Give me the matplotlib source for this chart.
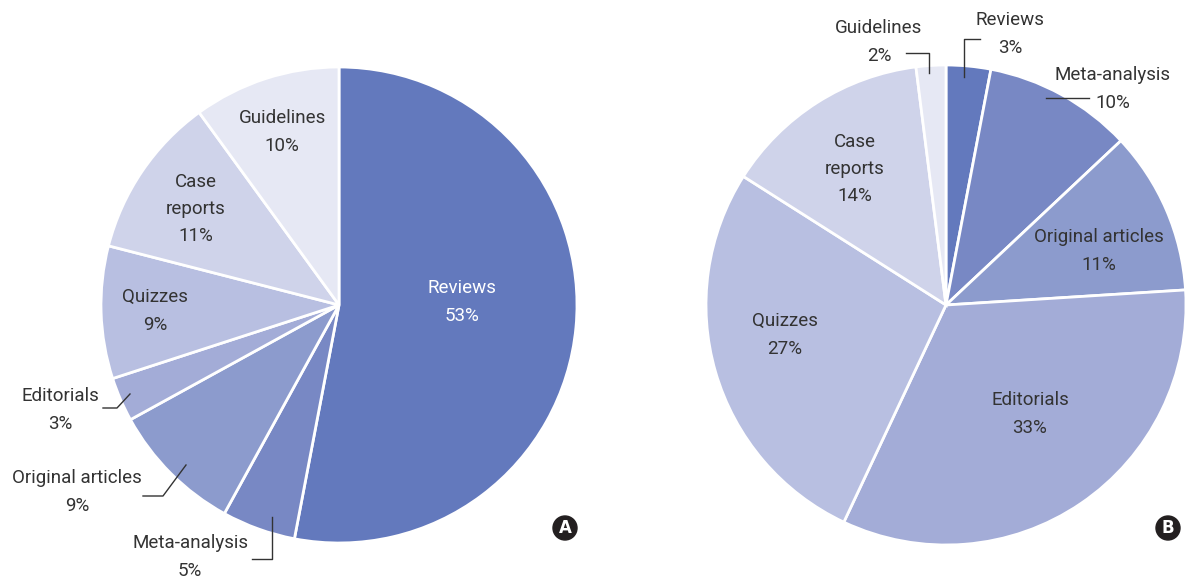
import matplotlib
matplotlib.use("Agg")
import matplotlib.pyplot as plt
from matplotlib.patches import Circle

plt.rcParams['font.family'] = ['Roboto', 'DejaVu Sans']

categories = ['Reviews', 'Meta-analysis', 'Original articles', 'Editorials',
              'Quizzes', 'Case reports', 'Guidelines']
share_a = [53, 5, 9, 3, 9, 11, 10]
share_b = [3, 10, 11, 33, 27, 14, 2]
colors = ['#6379bd', '#7888c4', '#8c9bcd', '#a3acd7', '#b8bfe1', '#cfd3ea', '#e6e8f4']

W, H = 1185, 579
fig = plt.figure(figsize=(W / 100, H / 100), dpi=100)
ax = fig.add_axes([0, 0, 1, 1])
ax.axis('off')


def py(y):
    # pixel row (from top) -> data y
    return H - y


TXT = '#333333'
FS = 13.5

# pie A
ax.pie(share_a, colors=colors, startangle=90, counterclock=False,
       center=(339, py(305)), radius=238,
       wedgeprops=dict(edgecolor='white', linewidth=2))
# pie B
ax.pie(share_b, colors=colors, startangle=90, counterclock=False,
       center=(946, py(305)), radius=240,
       wedgeprops=dict(edgecolor='white', linewidth=2))
ax.set_xlim(0, W)
ax.set_ylim(0, H)
ax.set_aspect('auto')

# label text and positions (pixel coords of label centre)
labels_a = ['Reviews\n53%', 'Meta-analysis\n5%', 'Original articles\n9%', 'Editorials\n3%',
            'Quizzes\n9%', 'Case\nreports\n11%', 'Guidelines\n10%']
pos_a = [(462, 302), (190, 557), (77, 492), (60, 410), (155, 311), (196, 209), (282, 132)]
labels_b = ['Reviews\n3%', 'Meta-analysis\n10%', 'Original articles\n11%', 'Editorials\n33%',
            'Quizzes\n27%', 'Case\nreports\n14%', 'Guidelines\n2%']
pos_b = [(1010, 34), (1113, 89), (1099, 251), (1030, 414), (785, 335), (855, 169), (879, 42)]

for i, (lab, (x, y)) in enumerate(zip(labels_a, pos_a)):
    c = 'white' if i == 0 else TXT
    ax.text(x, py(y), lab, ha='center', va='center', fontsize=FS, color=c, linespacing=1.65)
for lab, (x, y) in zip(labels_b, pos_b):
    ax.text(x, py(y), lab, ha='center', va='center', fontsize=FS, color=TXT, linespacing=1.65)

# leader lines
leaders = [
    [(103, 408), (117, 408), (130, 394)],
    [(143, 496), (163, 496), (186, 465)],
    [(252, 559), (272, 559), (272, 517)],
    [(906, 53), (929, 53), (929, 73)],
    [(964, 77), (964, 39), (980, 39)],
    [(1046, 98), (1089, 98)],
]
for pts in leaders:
    ax.plot([p[0] for p in pts], [py(p[1]) for p in pts], color='#333333', lw=1)

# panel badges
for letter, (x, y) in [('A', (565, 528)), ('B', (1168, 528))]:
    ax.add_patch(Circle((x, py(y)), 12, color='#231f20', zorder=5))
    ax.text(x, py(y), letter, ha='center', va='center', fontsize=12, color='white',
            fontweight='bold', family='DejaVu Sans', zorder=6)

fig.savefig('out.png', dpi=100)
